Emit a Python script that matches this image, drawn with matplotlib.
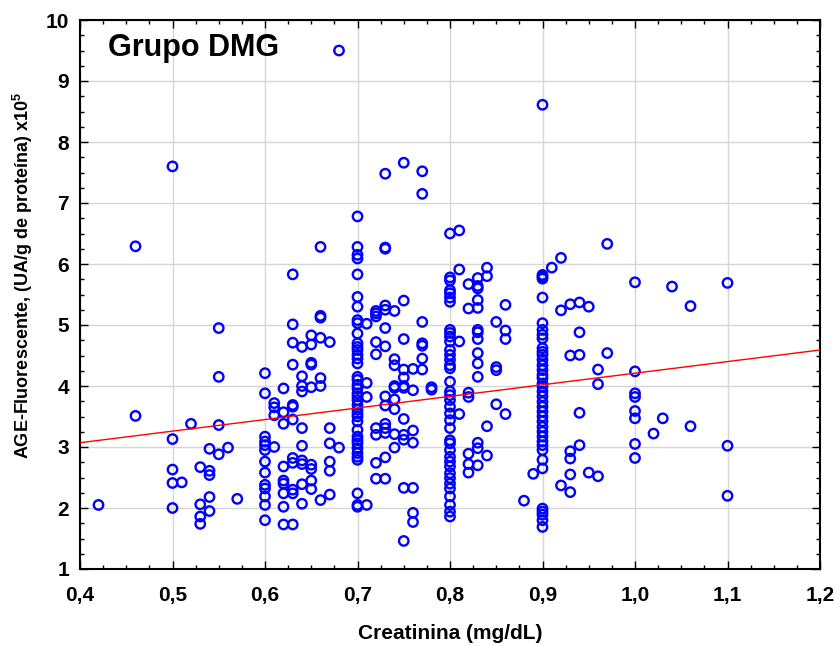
import matplotlib
matplotlib.use("Agg")
import matplotlib.pyplot as plt
import numpy as np
from matplotlib.ticker import MultipleLocator, FuncFormatter

# ---- data: (creatinina, AGE), grouped by creatinine value ----
creatinina = (
    [0.42] * 1 + [0.46] * 2 + [0.50] * 5 + [0.51] * 1 + [0.52] * 1 + [0.53] * 4 +
    [0.54] * 5 + [0.55] * 4 + [0.56] * 1 + [0.57] * 1 + [0.60] * 13 + [0.61] * 4 +
    [0.62] * 9 + [0.63] * 12 + [0.64] * 10 + [0.65] * 9 + [0.66] * 7 + [0.67] * 6 +
    [0.68] * 2 + [0.70] * 39 + [0.71] * 4 + [0.72] * 9 + [0.73] * 14 + [0.74] * 9 +
    [0.75] * 12 + [0.76] * 7 + [0.77] * 7 + [0.78] * 2 + [0.80] * 38 + [0.81] * 4 +
    [0.82] * 7 + [0.83] * 14 + [0.84] * 4 + [0.85] * 4 + [0.86] * 4 + [0.88] * 1 +
    [0.89] * 1 + [0.90] * 39 + [0.91] * 1 + [0.92] * 3 + [0.93] * 6 + [0.94] * 5 +
    [0.95] * 2 + [0.96] * 3 + [0.97] * 2 + [1.00] * 8 + [1.02] * 1 + [1.03] * 1 +
    [1.04] * 1 + [1.06] * 2 + [1.10] * 3
)

age = [
    2.05,                                   # 0.42
    6.29, 3.51,                             # 0.46
    7.60, 3.13, 2.63, 2.41, 2.00,           # 0.50
    2.42,                                   # 0.51
    3.38,                                   # 0.52
    2.67, 2.06, 1.86, 1.74,                 # 0.53
    2.97, 2.61, 2.54, 2.18, 1.95,           # 0.54
    4.95, 4.15, 3.36, 2.88,                 # 0.55
    2.99,                                   # 0.56
    2.15,                                   # 0.57
    4.21, 3.88, 3.17, 3.09, 3.03, 2.95, 2.76, 2.58, 2.38, 2.32, 2.19, 2.05, 1.80,  # 0.60
    3.72, 3.65, 3.52, 3.00,                 # 0.61
    3.96, 3.57, 3.38, 2.68, 2.45, 2.40, 2.24, 2.02, 1.73,  # 0.62
    5.83, 5.01, 4.71, 4.35, 3.69, 3.66, 3.45, 2.82, 2.74, 2.30, 2.24, 1.73,  # 0.63
    4.64, 4.16, 4.00, 3.91, 3.31, 3.02, 2.78, 2.72, 2.39, 2.07,  # 0.64
    4.83, 4.68, 4.38, 4.35, 3.98, 2.71, 2.64, 2.45, 2.31,  # 0.65
    6.28, 5.15, 5.12, 4.79, 4.13, 4.00, 2.13,  # 0.66
    4.72, 3.31, 3.06, 2.76, 2.61, 2.22,     # 0.67
    9.50, 2.99,                             # 0.68
    6.78, 6.28, 6.15, 6.09, 5.83, 5.46, 5.30, 5.08, 5.03, 4.86, 4.70, 4.64, 4.59,
    4.51, 4.45, 4.37, 4.15, 4.10, 4.02, 3.96, 3.88, 3.83, 3.77, 3.69, 3.61, 3.55,
    3.50, 3.42, 3.28, 3.17, 3.11, 3.06, 2.98, 2.90, 2.84, 2.79, 2.24, 2.05, 2.02,  # 0.70
    5.02, 4.05, 3.82, 2.05,                 # 0.71
    5.23, 5.19, 5.14, 4.72, 4.52, 3.31, 3.20, 2.74, 2.48,  # 0.72
    7.48, 6.27, 6.25, 5.32, 5.25, 4.95, 4.65, 3.83, 3.68, 3.38, 3.31, 3.23, 2.83, 2.48,  # 0.73
    5.23, 4.44, 4.34, 4.00, 3.97, 3.78, 3.62, 3.21, 2.99,  # 0.74
    7.66, 5.40, 4.77, 4.27, 4.14, 4.00, 3.97, 3.46, 3.20, 3.12, 2.33, 1.46,  # 0.75
    4.28, 3.93, 3.27, 3.07, 2.33, 1.92, 1.77,  # 0.76
    7.52, 7.15, 5.05, 4.70, 4.66, 4.45, 4.27,  # 0.77
    3.98, 3.94,                             # 0.78
    6.50, 5.78, 5.73, 5.57, 5.52, 5.45, 5.38, 4.92, 4.87, 4.81, 4.73, 4.59, 4.51,
    4.43, 4.34, 4.29, 4.07, 3.91, 3.85, 3.77, 3.66, 3.55, 3.44, 3.31, 3.11, 3.06,
    2.95, 2.84, 2.76, 2.68, 2.57, 2.49, 2.40, 2.32, 2.19, 2.05, 1.94, 1.86,  # 0.80
    6.55, 5.91, 4.73, 3.54,                 # 0.81
    5.67, 5.27, 3.89, 3.82, 2.89, 2.72, 2.58,  # 0.82
    5.77, 5.64, 5.60, 5.41, 5.28, 4.92, 4.88, 4.77, 4.54, 4.37, 4.15, 3.07, 2.98, 2.70,  # 0.83
    5.94, 5.80, 3.34, 2.86,                 # 0.84
    5.05, 4.31, 4.26, 3.70,                 # 0.85
    5.33, 4.91, 4.77, 3.54,                 # 0.86
    2.12,                                   # 0.88
    2.56,                                   # 0.89
    8.61, 5.82, 5.76, 5.45, 5.03, 4.92, 4.84, 4.78, 4.62, 4.56, 4.51, 4.43, 4.34,
    4.26, 4.18, 4.13, 4.04, 3.99, 3.91, 3.83, 3.74, 3.66, 3.58, 3.50, 3.42, 3.33,
    3.25, 3.17, 3.09, 3.03, 2.95, 2.79, 2.65, 1.99, 1.94, 1.89, 1.80, 1.69, 5.79,  # 0.90
    5.94,                                   # 0.91
    6.10, 5.24, 2.37,                       # 0.92
    5.34, 4.50, 2.93, 2.81, 2.55, 2.26,     # 0.93
    5.37, 4.88, 4.51, 3.56, 3.03,           # 0.94
    5.30, 2.58,                             # 0.95
    4.27, 4.03, 2.52,                       # 0.96
    6.33, 4.54,                             # 0.97
    5.70, 4.24, 3.88, 3.82, 3.59, 3.47, 3.05, 2.82,  # 1.00
    3.22,                                   # 1.02
    3.47,                                   # 1.03
    5.63,                                   # 1.04
    5.31, 3.34,                             # 1.06
    5.69, 3.02, 2.20,                       # 1.10
]

# regression line endpoints
reg_x = [0.4, 1.2]
reg_y = [3.07, 4.59]

x_ticks = [0.4, 0.5, 0.6, 0.7, 0.8, 0.9, 1.0, 1.1, 1.2]
y_ticks = [1, 2, 3, 4, 5, 6, 7, 8, 9, 10]

title_text = "Grupo DMG"
x_label = "Creatinina (mg/dL)"
y_label = "AGE-Fluorescente, (UA/g de proteína) x10$^{\\mathbf{5}}$"

# ---- figure ----
plt.rcParams['font.family'] = ['Liberation Sans', 'DejaVu Sans']
plt.rcParams['mathtext.fontset'] = 'custom'
plt.rcParams['mathtext.bf'] = 'Liberation Sans:bold'
plt.rcParams['mathtext.rm'] = 'Liberation Sans'
fig = plt.figure(figsize=(8.4, 6.46), dpi=100)
ax = fig.add_axes([80 / 840, 77 / 646, 740 / 840, 549 / 646])

ax.set_xlim(0.4, 1.2)
ax.set_ylim(1, 10)
ax.grid(True, which='major', color='#d6d6d6', linewidth=1.0, zorder=0)
ax.set_axisbelow(True)

ax.scatter(creatinina, age, s=46, facecolors='none', edgecolors='#0000ff',
           linewidths=1.7, zorder=3)
ax.plot(reg_x, reg_y, color='#ff0000', linewidth=1.0, zorder=4)

ax.set_xticks(x_ticks)
ax.set_yticks(y_ticks)
ax.xaxis.set_major_formatter(FuncFormatter(lambda v, p: f"{v:.1f}".replace('.', ',')))
ax.yaxis.set_major_formatter(FuncFormatter(lambda v, p: f"{int(round(v))}"))
ax.xaxis.set_minor_locator(MultipleLocator(0.025))
ax.yaxis.set_minor_locator(MultipleLocator(0.25))
ax.tick_params(which='both', direction='in', top=True, right=True, width=1.0)
ax.tick_params(which='major', length=6)
ax.tick_params(which='minor', length=3)
ax.tick_params(axis='x', which='major', pad=12)
ax.tick_params(axis='y', which='major', pad=8)

for lab in ax.get_xticklabels():
    lab.set_fontweight('bold')
    lab.set_fontsize(15)
for lab in ax.get_yticklabels():
    lab.set_fontweight('bold')
    lab.set_fontsize(15)

for s in ax.spines.values():
    s.set_linewidth(1.5)
    s.set_color('black')

ax.set_xlabel(x_label, fontsize=15, fontweight='bold', labelpad=14)
ax.set_ylabel(y_label, fontsize=13, fontweight='bold')
ax.yaxis.set_label_coords(-0.061, 0.535)

ax.text(0.038, 0.949, title_text, transform=ax.transAxes, fontsize=22,
        fontweight='bold', ha='left', va='center')

fig.savefig("out.png", dpi=100)
